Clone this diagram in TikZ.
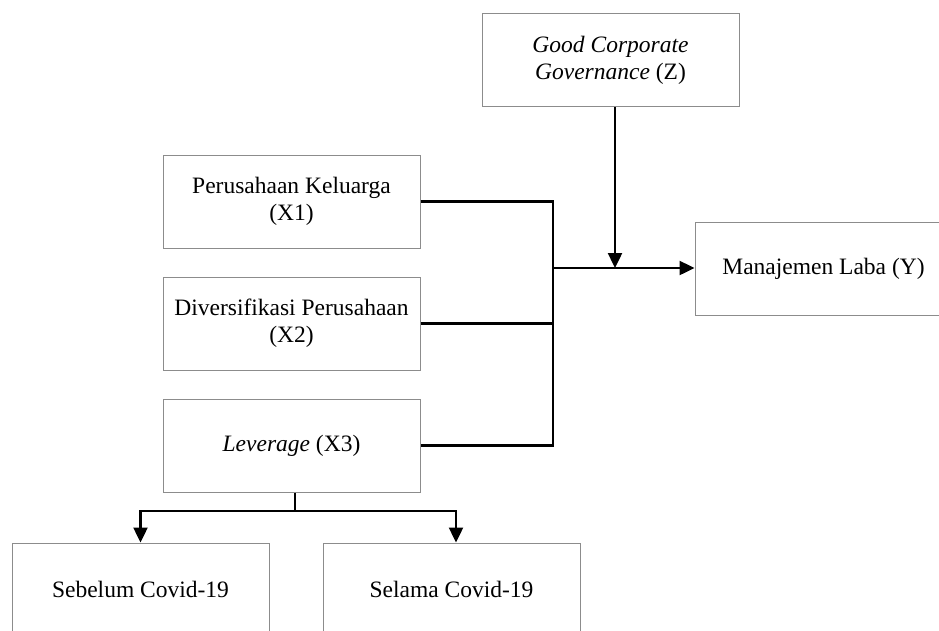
\documentclass[tikz,border=0pt]{standalone}
\usepackage{fontspec}
\setmainfont{Liberation Serif}
\usetikzlibrary{arrows.meta, positioning}

\begin{document}
\begin{tikzpicture}[
    x=1pt, y=-1pt,
    node distance=28pt and 53pt,
    box/.style={rectangle, draw=black!45, line width=1pt, minimum width=257pt, minimum height=93pt, align=center, font=\fontsize{23.5}{27}\selectfont},
    line/.style={draw, line width=2.4pt, -{Triangle[length=15pt, width=14pt]}},
    link/.style={draw, line width=2.4pt}
    ]
    \clip (0,0) rectangle (939,630);

    % Independent variables
    \node [box] (perusahaan) at (291.5,201.5) {Perusahaan Keluarga\\(X1)};
    \node [box, below=of perusahaan] (diversifikasi) {Diversifikasi Perusahaan\\(X2)};
    \node [box, below=of diversifikasi] (leverage) {\textit{Leverage} (X3)};

    % Moderating and dependent variables
    \node [box] (gcg) at (610.5,60) {\textit{Good Corporate}\\\textit{Governance} (Z)};
    \node [box] (laba) at (823.5,269) {Manajemen Laba (Y)};

    % Periods
    \node [box] (sebelum) at (140.5,589.5) {Sebelum Covid-19};
    \node [box, right=of sebelum] (selama) {Selama Covid-19};

    % Joints
    \coordinate (gabung) at (553,268);
    \coordinate (moderasi) at (615,268);
    \coordinate (cabang) at (295,511);

    % Draw edges
    \path [link] (perusahaan.east) -- (perusahaan.east -| gabung) -- (leverage.east -| gabung) -- (leverage.east);
    \path [link] (diversifikasi.east) -- (diversifikasi.east -| gabung);
    \path [line] (gabung) -- (gabung -| laba.west);
    \path [line] (gcg.south -| moderasi) -- (moderasi);

    % Split into periods
    \path [link] (leverage.south -| cabang) -- (cabang);
    \path [line] (cabang) -| (sebelum.north);
    \path [line] (cabang) -| ([xshift=4.5pt]selama.north);

\end{tikzpicture}
\end{document}
